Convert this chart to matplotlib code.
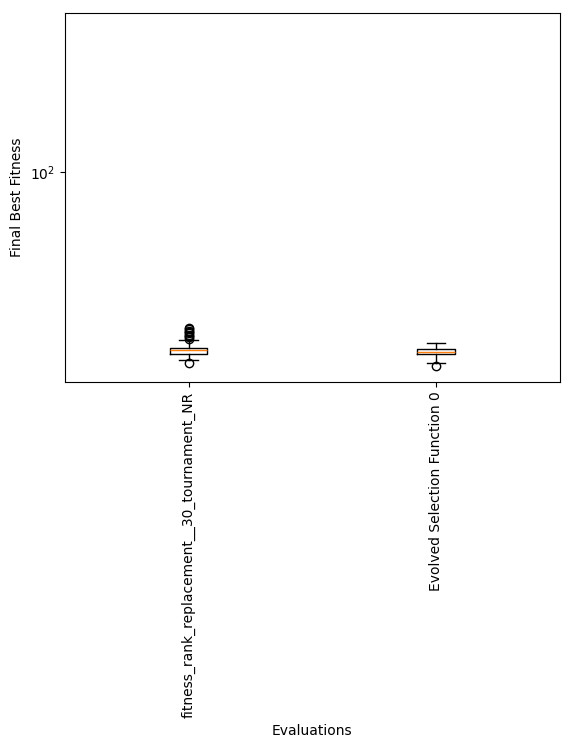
import numpy as np
import matplotlib
matplotlib.use("Agg")
import matplotlib.pyplot as plt

labels = ["fitness_rank_replacement__30_tournament_NR", "Evolved Selection Function 0"]

# box statistics (log y axis)
medians = [25.5, 25.1]
q1s = [24.7, 24.7]
q3s = [25.9, 25.6]
whislo = [23.6, 23.1]
whishi = [27.5, 27.0]
fliers = [
    [23.1, 27.8, 28.1, 28.4, 28.7, 29.0, 29.3, 29.6, 29.9, 30.2],
    [22.5],
]

stats = []
for i in range(len(labels)):
    stats.append({"label": labels[i], "med": medians[i], "q1": q1s[i], "q3": q3s[i],
                  "whislo": whislo[i], "whishi": whishi[i], "fliers": fliers[i]})

fig, ax = plt.subplots(figsize=(5.73, 7.49), dpi=100)
fig.subplots_adjust(left=0.113, right=0.977, top=0.983, bottom=0.49)

ax.bxp(stats, positions=[1, 2])
ax.set_yscale("log")
ax.set_ylim(19.95, 339)
ax.minorticks_off()
ax.set_xticks([1, 2])
ax.set_xticklabels(labels, rotation=90)

ax.set_xlabel("Evaluations")
ax.set_ylabel("Final Best Fitness")

plt.savefig("out.png", dpi=100)
